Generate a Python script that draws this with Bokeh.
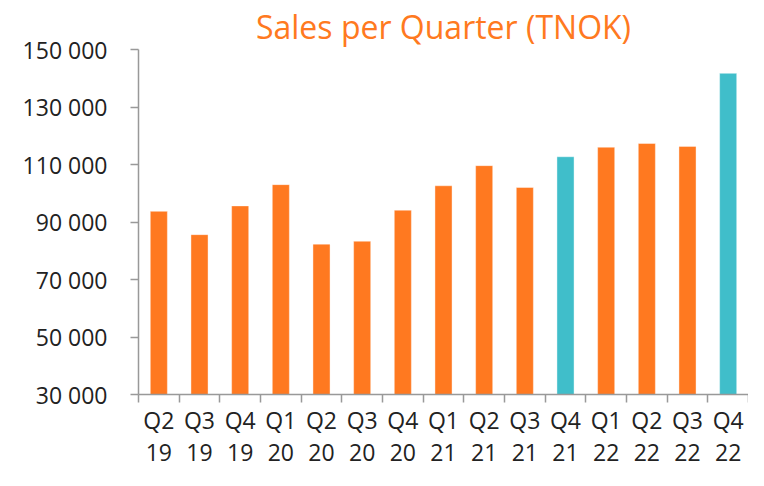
from bokeh.plotting import figure
from bokeh.models import ColumnDataSource, FixedTicker, LinearAxis, Range1d, Title
from bokeh.embed import file_html
from bokeh.resources import INLINE

# ---- data ----
quarters = ["Q2", "Q3", "Q4", "Q1", "Q2", "Q3", "Q4", "Q1", "Q2", "Q3", "Q4", "Q1", "Q2", "Q3", "Q4"]
years = ["19", "19", "19", "20", "20", "20", "20", "21", "21", "21", "21", "22", "22", "22", "22"]
sales = [93700, 85600, 95600, 103000, 82300, 83300, 94100, 102600, 109600, 102000,
         112700, 116000, 117300, 116300, 141700]
highlighted = ["Q4 21", "Q4 22"]
y_ticks = [30000, 50000, 70000, 90000, 110000, 130000, 150000]
y_tick_labels = ["30 000", "50 000", "70 000", "90 000", "110 000", "130 000", "150 000"]
title_text = "Sales per Quarter (TNOK)"

ORANGE = "#FF7920"
TEAL = "#40BECA"
FONT = "Open Sans"

n = len(sales)
centers = [i + 0.5 for i in range(n)]
names = [f"{q} {y}" for q, y in zip(quarters, years)]
colors = [TEAL if nm in highlighted else ORANGE for nm in names]

src = ColumnDataSource(dict(x=centers, top=sales, color=colors))

p = figure(width=748, height=470, output_backend="svg", toolbar_location=None,
           x_range=Range1d(0, n), y_range=Range1d(30000, 150000),
           x_axis_type=None, y_axis_type=None,
           min_border_left=138, min_border_right=0, min_border_top=0, min_border_bottom=72)

p.title = Title(text=title_text, text_font=FONT, text_font_size="32px",
                text_font_style="normal", text_color=ORANGE, align="center",
                standoff=4, offset=0)
p.outline_line_color = None

p.vbar(x="x", top="top", bottom=30000, width=0.42, fill_color="color",
       line_color="white", line_alpha=0.4, line_width=1, source=src)

# y axis
yax = LinearAxis(ticker=FixedTicker(ticks=y_ticks),
                 major_label_overrides={t: l for t, l in zip(y_ticks, y_tick_labels)})
yax.axis_line_color = "#999999"
yax.axis_line_width = 1.5
yax.major_tick_line_color = "#999999"
yax.major_tick_line_width = 1.5
yax.major_tick_out = 8
yax.major_tick_in = 0
yax.minor_tick_line_color = None
yax.major_label_text_font = FONT
yax.major_label_text_font_size = "23px"
yax.major_label_text_color = "#222222"
yax.major_label_standoff = 23
p.add_layout(yax, "left")

# x axis: boundary ticks (labels not drawn)
xax1 = LinearAxis(ticker=FixedTicker(ticks=list(range(n + 1))),
                  major_label_text_font_size="1px", major_label_text_color=None,
                  major_label_standoff=0)
xax1.axis_line_color = "#999999"
xax1.axis_line_width = 1.5
xax1.major_tick_line_color = "#999999"
xax1.major_tick_line_width = 1.5
xax1.major_tick_out = 8
xax1.major_tick_in = 0
xax1.minor_tick_line_color = None
p.add_layout(xax1, "below")

# x axis: category labels
xax2 = LinearAxis(ticker=FixedTicker(ticks=centers),
                  major_label_overrides={c: f"{q}\n{y}" for c, q, y in zip(centers, quarters, years)})
xax2.axis_line_color = None
xax2.major_tick_line_color = None
xax2.major_tick_out = 0
xax2.major_tick_in = 0
xax2.minor_tick_line_color = None
xax2.major_label_text_font = FONT
xax2.major_label_text_font_size = "23px"
xax2.major_label_text_color = "#222222"
xax2.major_label_text_line_height = 1.0
xax2.major_label_standoff = 1
p.add_layout(xax2, "below")

p.xgrid.visible = False
p.ygrid.ticker = FixedTicker(ticks=y_ticks)
p.ygrid.grid_line_color = "#9a9a9a"
p.ygrid.grid_line_width = 1.5

open("out.html", "w").write(file_html(p, INLINE))
